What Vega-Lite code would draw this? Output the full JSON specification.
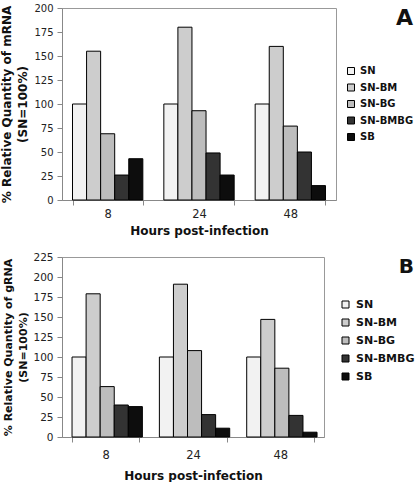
{
  "$schema": "https://vega.github.io/schema/vega-lite/v6.json",
  "padding": {"left": 0, "top": 2, "right": 0, "bottom": 0},
  "config": {
    "font": "DejaVu Sans",
    "view": {"stroke": "#999999", "strokeWidth": 1},
    "axis": {"domainColor": "#888888", "tickColor": "#888888", "labelColor": "#222222", "titleColor": "#111111", "grid": false, "titleFontWeight": "bold"},
    "legend": {"labelColor": "#111111", "titleColor": "#111111"}
  },
  "data": {"values": [
    {"panel": "A", "hour": "8", "series": "SN", "value": 100},
    {"panel": "A", "hour": "8", "series": "SN-BM", "value": 155},
    {"panel": "A", "hour": "8", "series": "SN-BG", "value": 69},
    {"panel": "A", "hour": "8", "series": "SN-BMBG", "value": 26},
    {"panel": "A", "hour": "8", "series": "SB", "value": 43},
    {"panel": "A", "hour": "24", "series": "SN", "value": 100},
    {"panel": "A", "hour": "24", "series": "SN-BM", "value": 180},
    {"panel": "A", "hour": "24", "series": "SN-BG", "value": 93},
    {"panel": "A", "hour": "24", "series": "SN-BMBG", "value": 49},
    {"panel": "A", "hour": "24", "series": "SB", "value": 26},
    {"panel": "A", "hour": "48", "series": "SN", "value": 100},
    {"panel": "A", "hour": "48", "series": "SN-BM", "value": 160},
    {"panel": "A", "hour": "48", "series": "SN-BG", "value": 77},
    {"panel": "A", "hour": "48", "series": "SN-BMBG", "value": 50},
    {"panel": "A", "hour": "48", "series": "SB", "value": 15},
    {"panel": "B", "hour": "8", "series": "SN", "value": 100},
    {"panel": "B", "hour": "8", "series": "SN-BM", "value": 179},
    {"panel": "B", "hour": "8", "series": "SN-BG", "value": 63},
    {"panel": "B", "hour": "8", "series": "SN-BMBG", "value": 40},
    {"panel": "B", "hour": "8", "series": "SB", "value": 38},
    {"panel": "B", "hour": "24", "series": "SN", "value": 100},
    {"panel": "B", "hour": "24", "series": "SN-BM", "value": 191},
    {"panel": "B", "hour": "24", "series": "SN-BG", "value": 108},
    {"panel": "B", "hour": "24", "series": "SN-BMBG", "value": 28},
    {"panel": "B", "hour": "24", "series": "SB", "value": 11},
    {"panel": "B", "hour": "48", "series": "SN", "value": 100},
    {"panel": "B", "hour": "48", "series": "SN-BM", "value": 147},
    {"panel": "B", "hour": "48", "series": "SN-BG", "value": 86},
    {"panel": "B", "hour": "48", "series": "SN-BMBG", "value": 27},
    {"panel": "B", "hour": "48", "series": "SB", "value": 6}
  ]},
  "spacing": 14,
  "resolve": {"scale": {"color": "independent"}, "legend": {"color": "independent"}},
  "vconcat": [
    {
      "transform": [{"filter": "datum.panel === 'A'"}],
      "width": 274,
      "height": 192,
      "mark": {"type": "bar", "stroke": "#000000", "strokeWidth": 1},
      "encoding": {
        "x": {"field": "hour", "type": "ordinal", "sort": ["8", "24", "48"],
          "scale": {"paddingInner": 0.23, "paddingOuter": 0.115},
          "axis": {"title": "Hours post-infection", "labelAngle": 0, "tickBand": "extent", "labelFontSize": 11.5, "titleFontSize": 12, "labelPadding": 3, "tickSize": 5, "titlePadding": 6}},
        "xOffset": {"field": "series", "type": "nominal", "sort": ["SN", "SN-BM", "SN-BG", "SN-BMBG", "SB"], "scale": {"paddingInner": 0, "paddingOuter": 0}},
        "y": {"field": "value", "type": "quantitative", "scale": {"domain": [0, 200]},
          "axis": {"values": [0, 25, 50, 75, 100, 125, 150, 175, 200], "title": ["% Relative Quantity of mRNA", "(SN=100%)"], "titleFontSize": 12, "titleLineHeight": 16, "labelFontSize": 10, "tickSize": 5, "labelPadding": 4, "titlePadding": 4}},
        "color": {"field": "series", "type": "nominal", "sort": ["SN", "SN-BM", "SN-BG", "SN-BMBG", "SB"],
          "scale": {"domain": ["SN", "SN-BM", "SN-BG", "SN-BMBG", "SB"], "range": ["#f2f2f2", "#cdcdcd", "#bdbdbd", "#333333", "#0d0d0d"]},
          "legend": {"title": "A", "titleFontSize": 22, "titleFontWeight": "bold", "titleAnchor": "end", "titleAlign": "right", "titlePadding": 36,
            "symbolType": "square", "symbolSize": 49, "symbolStrokeColor": "#000000", "symbolStrokeWidth": 1, "symbolOpacity": 1,
            "labelFontSize": 10, "labelFontWeight": "bold", "labelOffset": 4, "rowPadding": 4.5, "offset": 10, "padding": 0}}
      }
    },
    {
      "transform": [{"filter": "datum.panel === 'B'"}],
      "width": 262,
      "height": 180,
      "mark": {"type": "bar", "stroke": "#000000", "strokeWidth": 1},
      "encoding": {
        "x": {"field": "hour", "type": "ordinal", "sort": ["8", "24", "48"],
          "scale": {"paddingInner": 0.23, "paddingOuter": 0.115},
          "axis": {"title": "Hours post-infection", "labelAngle": 0, "tickBand": "extent", "labelFontSize": 11.5, "titleFontSize": 12, "labelPadding": 7, "tickSize": 5, "titlePadding": 10}},
        "xOffset": {"field": "series", "type": "nominal", "sort": ["SN", "SN-BM", "SN-BG", "SN-BMBG", "SB"], "scale": {"paddingInner": 0, "paddingOuter": 0}},
        "y": {"field": "value", "type": "quantitative", "scale": {"domain": [0, 225]},
          "axis": {"values": [0, 25, 50, 75, 100, 125, 150, 175, 200, 225], "title": ["% Relative Quantity of gRNA", "(SN=100%)"], "titleFontSize": 11, "titleLineHeight": 15, "labelFontSize": 10.5, "tickSize": 5, "labelPadding": 4, "titlePadding": 4}},
        "color": {"field": "series", "type": "nominal", "sort": ["SN", "SN-BM", "SN-BG", "SN-BMBG", "SB"],
          "scale": {"domain": ["SN", "SN-BM", "SN-BG", "SN-BMBG", "SB"], "range": ["#f2f2f2", "#cdcdcd", "#bdbdbd", "#333333", "#0d0d0d"]},
          "legend": {"title": "B", "titleFontSize": 20, "titleFontWeight": "bold", "titleAnchor": "end", "titleAlign": "right", "titlePadding": 22,
            "symbolType": "square", "symbolSize": 49, "symbolStrokeColor": "#000000", "symbolStrokeWidth": 1, "symbolOpacity": 1,
            "labelFontSize": 11, "labelFontWeight": "bold", "labelOffset": 5, "rowPadding": 6, "offset": 16, "padding": 0}}
      }
    }
  ]
}
